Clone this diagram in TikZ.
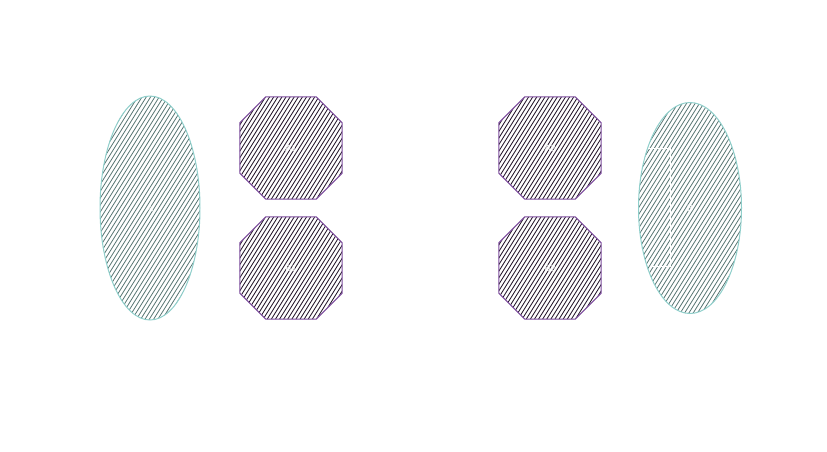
\documentclass[tikz,border=0pt]{standalone}
\usepackage{fontspec}
\setmainfont{Liberation Sans}
\usetikzlibrary{shapes.geometric}
\definecolor{ellline}{HTML}{8FCFCB}
\definecolor{ellhatch}{HTML}{587573}
\definecolor{octline}{HTML}{7B4A9C}
\definecolor{octhatch}{HTML}{24162A}
\tikzset{
  lbl/.style={inner sep=0pt, text=white, font=\fontsize{9}{10}\selectfont},
  ellhatchln/.style={draw=ellhatch, line width=0.8pt},
  octhatchln/.style={draw=octhatch, line width=0.85pt},
  ellborder/.style={draw=ellline, line width=1pt},
  octborder/.style={draw=octline, line width=1pt},
  wline/.style={draw=white, line width=0.8pt}
}
\newcommand\octpath[1]{([xshift=26pt]#1.north west) -- ([xshift=-26pt]#1.north east)
    -- ([yshift=-26pt]#1.north east) -- ([yshift=26pt]#1.south east)
    -- ([xshift=-26pt]#1.south east) -- ([xshift=26pt]#1.south west)
    -- ([yshift=26pt]#1.south west) -- ([yshift=-26pt]#1.north west) -- cycle}
\newcommand\hatchlines[3]{%
  \foreach \k in {-40,...,40}
    \draw[#2] (#1) ++(\k*#3-84.8,135.7) -- ++(169.6,-271.4);}
\newcommand\octshape[1]{%
  \begin{scope}\clip \octpath{#1};\hatchlines{#1}{octhatchln}{4.1}\end{scope}
  \draw[octborder] \octpath{#1};}
\newcommand\ellshape[3]{%
  \begin{scope}\clip (#1) ellipse [x radius=#2, y radius=#3];\hatchlines{#1}{ellhatchln}{4.3}\end{scope}
  \draw[ellborder] (#1) ellipse [x radius=#2, y radius=#3];}
\begin{document}
\begin{tikzpicture}[x=1pt,y=-1pt]
\useasboundingbox (0,0) rectangle (827,451);
\node[ellipse, minimum width=100pt, minimum height=224pt, inner sep=0pt] (A) at (150,208) {};
\node[minimum size=102pt, inner sep=0pt] (A1) at (291,148) {};
\node[minimum size=102pt, inner sep=0pt] (B1) at (291,268) {};
\node[minimum size=102pt, inner sep=0pt] (A2) at (550,148) {};
\node[minimum size=102pt, inner sep=0pt] (B2) at (550,268) {};
\node[ellipse, minimum width=103pt, minimum height=211pt, inner sep=0pt] (B) at (690,208) {};
\ellshape{A}{50}{112}
\ellshape{B}{51.5}{105.5}
\octshape{A1}\octshape{B1}\octshape{A2}\octshape{B2}
\node[lbl] at (A) {A};
\node[lbl] at (A1) {A1};
\node[lbl] at (B1) {B1};
\node[lbl] at (A2) {A2};
\node[lbl] at (B2) {B2};
\node[lbl] at (B) {B};
\coordinate (w1) at (648,148);
\coordinate (w2) at (670,148);
\coordinate (w3) at (670,266);
\coordinate (w4) at (650,266);
\draw[wline] (w1) -- (w2) -- (w3) -- (w4);
\end{tikzpicture}
\end{document}
